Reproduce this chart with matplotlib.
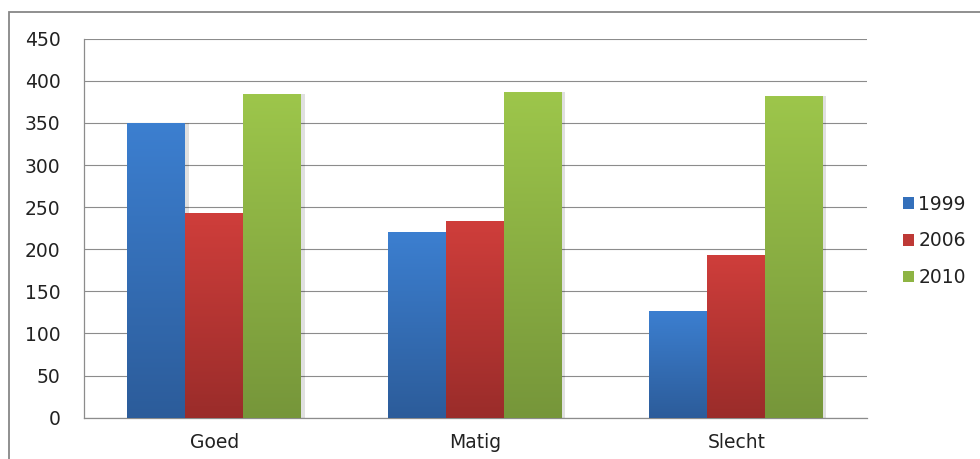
import matplotlib
matplotlib.use("Agg")
import matplotlib.pyplot as plt
import numpy as np
from matplotlib.colors import LinearSegmentedColormap
from matplotlib.patches import Patch, Rectangle

plt.rcParams["font.family"] = ["DejaVu Sans"]

categories = ["Goed", "Matig", "Slecht"]
years = ["1999", "2006", "2010"]
values_1999 = [350, 220, 127]
values_2006 = [243, 233, 193]
values_2010 = [384, 387, 382]

# top / bottom colours of the gradient fill per series
top_colors = ["#3c7fd0", "#cf3e3b", "#9dc64b"]
bottom_colors = ["#2c5c9a", "#9a2c2a", "#76963a"]

series = [values_1999, values_2006, values_2010]

fig = plt.figure(figsize=(9.8, 4.59), dpi=100)
ax = fig.add_axes([0.0857, 0.09, 0.7987, 0.8257])

# outer chart border
fig.patches.append(Rectangle((9 / 980, -0.1), 1.2, 1 - 12.5 / 459 + 0.1,
                             transform=fig.transFigure, fill=False,
                             edgecolor="#878787", linewidth=1.3))

width = 1 / 4.5
x = np.arange(len(categories))
grad = np.linspace(0, 1, 256).reshape(-1, 1)

for i, vals in enumerate(series):
    cmap = LinearSegmentedColormap.from_list(
        "g%d" % i, [bottom_colors[i], top_colors[i]])
    offs = x + (i - 1) * width
    # soft shadow to the right of each bar
    ax.bar(offs + 0.012, vals, width, color="#000000", alpha=0.12,
           zorder=2, linewidth=0)
    bars = ax.bar(offs, vals, width, color="none", linewidth=0, zorder=3)
    for b, v in zip(bars, vals):
        x0 = b.get_x()
        im = ax.imshow(grad, cmap=cmap, origin="lower", aspect="auto",
                       extent=[x0, x0 + width, 0, v], zorder=3)
        im.set_clip_path(b)

ax.set_xlim(-0.5, 2.5)
ax.set_ylim(0, 450)
ax.set_yticks(np.arange(0, 451, 50))
ax.set_xticks(x)
ax.set_xticklabels(categories)
ax.yaxis.grid(True, color="#8c8c8c", linewidth=0.8, zorder=0)
ax.set_axisbelow(True)
ax.tick_params(length=0, labelsize=13.5, labelcolor="#222222")
ax.tick_params(axis="y", pad=17)
ax.tick_params(axis="x", pad=11)
for side in ["top", "right"]:
    ax.spines[side].set_visible(False)
ax.spines["left"].set_color("#8c8c8c")
ax.spines["bottom"].set_color("#8c8c8c")
ax.spines["left"].set_linewidth(0.9)
ax.spines["bottom"].set_linewidth(0.9)

handles = [Patch(facecolor=c, edgecolor="none") for c in
           ["#3470bb", "#be3936", "#8eb443"]]
fig.legend(handles, years, loc="center left",
           bbox_to_anchor=(903 / 980, 1 - 241 / 459), frameon=False,
           borderaxespad=0, borderpad=0,
           fontsize=13.5, handlelength=0.57, handleheight=0.57,
           handletextpad=0.25, labelspacing=0.95, labelcolor="#222222")

fig.savefig("out.png", dpi=100)
